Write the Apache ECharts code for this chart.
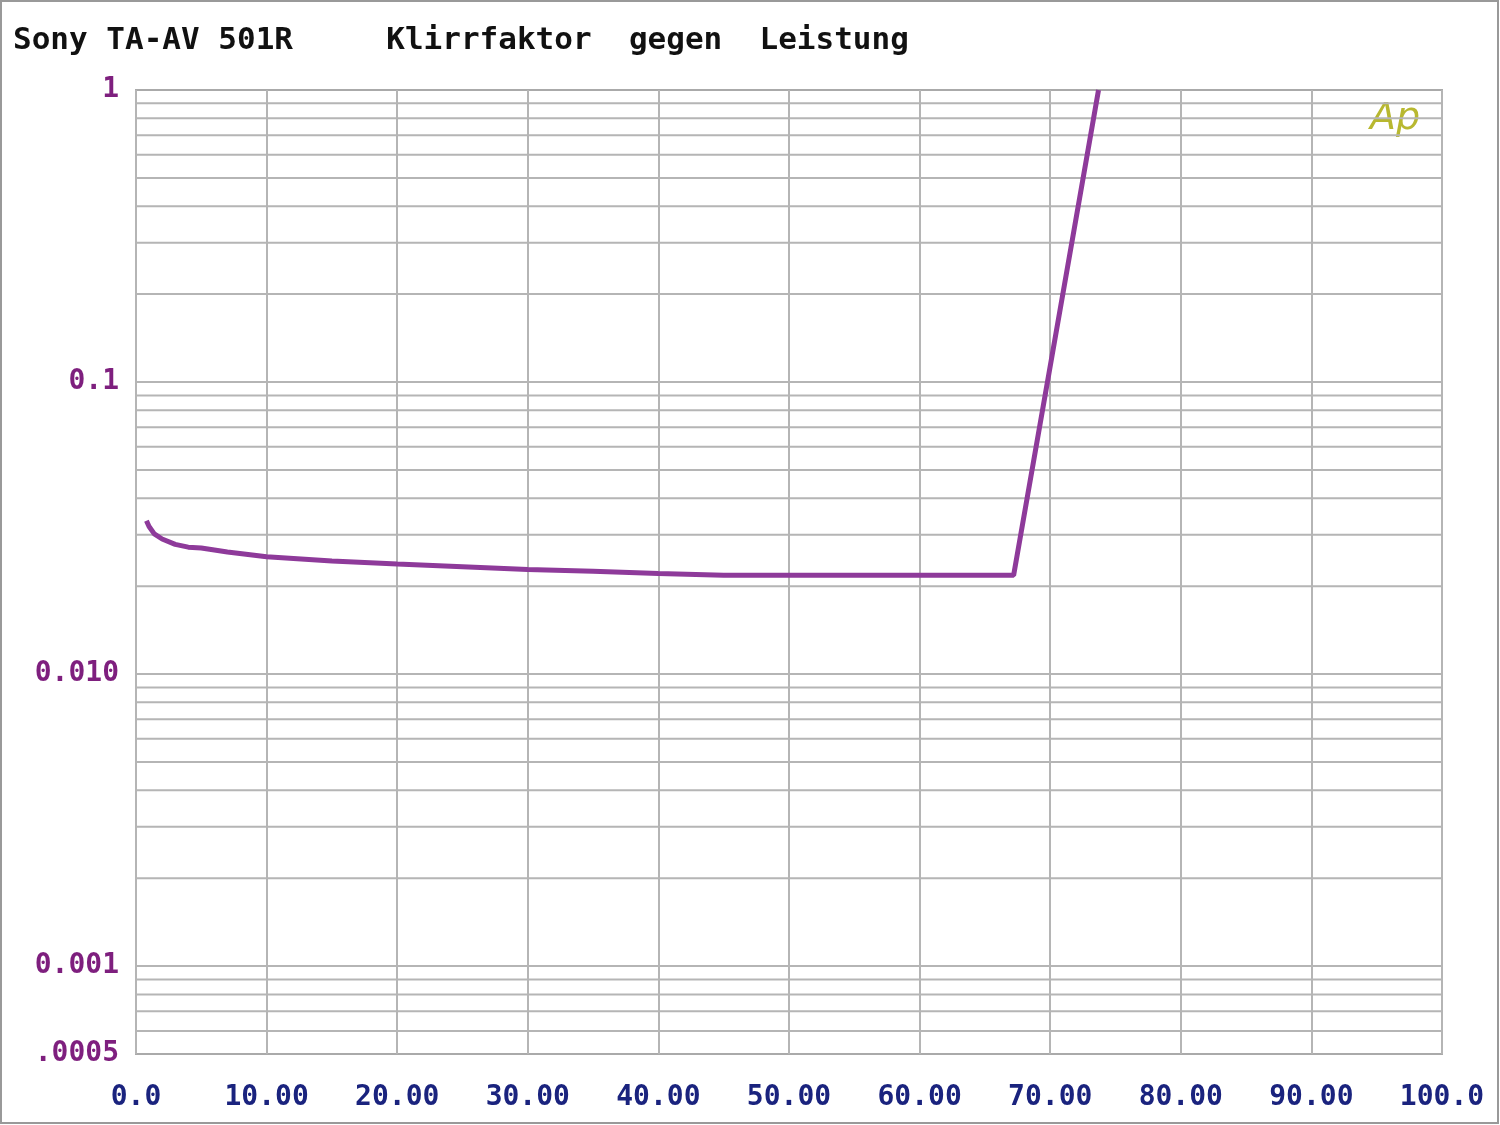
<!DOCTYPE html>
<html><head><meta charset="utf-8">
<script src="https://cdn.jsdelivr.net/npm/echarts@6/dist/echarts.min.js"></script>
<style>html,body{margin:0;background:#fff}#c{width:1500px;height:1125px}</style>
</head><body><div id="c"></div>
<script>
const title = 'Sony TA-AV 501R     Klirrfaktor  gegen  Leistung';
const xTicks = ['0.0','10.00','20.00','30.00','40.00','50.00','60.00','70.00','80.00','90.00','100.0'];
const yMajor = [1, 0.1, 0.01, 0.001, 0.0005];
const yMajorLabels = ['1', '0.1', '0.010', '0.001', '.0005'];
const powerW = [0.8, 1.0, 1.4, 2, 3, 4, 5, 7, 10, 15, 20, 25, 30, 35, 40, 45, 50, 55, 60, 65, 67.2, 73.7];
const thd = [0.0335, 0.032, 0.0302, 0.029, 0.0278, 0.0272, 0.027, 0.0262, 0.0252, 0.0244, 0.0238, 0.0233, 0.0228, 0.0225, 0.0221, 0.0218, 0.0218, 0.0218, 0.0218, 0.0218, 0.0218, 1.0];

const gridVals = [];
[0.0001,0.001,0.01,0.1].forEach(d=>{for(let k=1;k<=9;k++){const v=+(k*d).toPrecision(3); if(v>0.0005&&v<1) gridVals.push(v);}});
const mono = '"DejaVu Sans Mono", "Liberation Mono", monospace';
const gridStyle = {color:'#b5b5b5',width:2};
const gridSeries = gridVals.map(v=>({type:'line',silent:true,showSymbol:false,symbol:'none',z:1,lineStyle:gridStyle,data:[[0,v],[100,v]]}));
const labelSeries = {type:'scatter',silent:true,clip:false,symbolSize:2,itemStyle:{color:'rgba(0,0,0,0)',opacity:1},z:2,
  label:{show:true,position:'left',distance:16,opacity:1,formatter:(p)=>yMajorLabels[p.dataIndex],
    fontFamily:mono,fontSize:28,fontWeight:'bold',color:'#7e1f7e'},
  data:yMajor.map(v=>[0,v])};
const chart = echarts.init(document.getElementById('c'));
chart.setOption({
  animation:false,
  title:{text:title,left:8,top:20,textStyle:{fontFamily:mono,fontSize:31,fontWeight:'bold',color:'#111'}},
  graphic:[{type:'rect',shape:{x:1,y:1,width:1497,height:1122},style:{fill:'none',stroke:'#999',lineWidth:2}},
    {type:'text',left:1370,top:100,style:{text:'Ap',font:'italic 38px "DejaVu Sans"',fill:'#b8b830'}}],
  grid:{left:136,right:58,top:90,bottom:71,show:true,borderColor:'#aaa',borderWidth:2},
  xAxis:{type:'value',min:0,max:100,interval:10,
    axisLine:{show:false},axisTick:{show:false},
    splitLine:{lineStyle:gridStyle},
    axisLabel:{margin:30,fontFamily:mono,fontSize:28,fontWeight:'bold',color:'#1a237e',
      formatter:(v)=>xTicks[Math.round(v/10)]}},
  yAxis:{type:'log',logBase:10,min:0.0005,max:1,
    axisLine:{show:false},axisTick:{show:false},splitLine:{show:false},axisLabel:{show:false}},
  series:[...gridSeries,labelSeries,
   {type:'line',data:powerW.map((x,i)=>[x,thd[i]]),showSymbol:false,z:5,
    lineStyle:{color:'#8e3a9a',width:5}}]
});
</script></body></html>
